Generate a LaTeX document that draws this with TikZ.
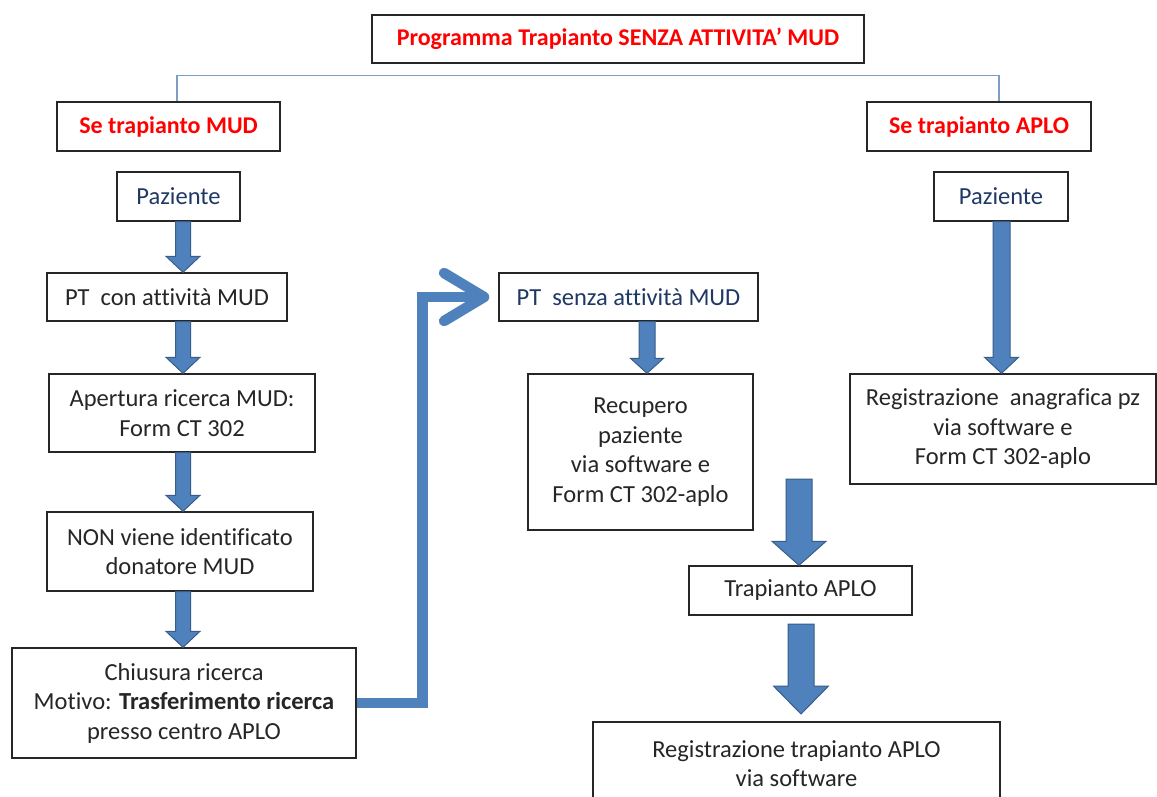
\documentclass[tikz,border=0pt]{standalone}
\usepackage{fontspec}
\setmainfont[Ligatures={NoCommon}]{Carlito}
\usetikzlibrary{calc,arrows.meta}
\definecolor{redtxt}{HTML}{FF0000}
\definecolor{navytxt}{HTML}{1F3864}
\definecolor{afill}{HTML}{4F81BD}
\definecolor{adraw}{HTML}{385D8A}
\definecolor{tcol}{HTML}{7F9CC4}
\definecolor{bcol}{HTML}{262626}
\newcommand{\barrow}[5]{%
  \path[blockarrow] let \p1=(#1), \p2=(#2) in
    (\x2-#3pt,\y1) -- (\x2+#3pt,\y1) -- (\x2+#3pt,\y2+#5pt) -- (\x2+#4pt,\y2+#5pt)
    -- (\x2,\y2) -- (\x2-#4pt,\y2+#5pt) -- (\x2-#3pt,\y2+#5pt) -- cycle;}
\begin{document}
\begin{tikzpicture}[x=1pt,y=-1pt,
  box/.style={draw=bcol, line width=1.4pt, fill=white, align=center, inner sep=0pt,
    font=\fontsize{24.5}{29.5}\selectfont, text=black!85},
  redbox/.style={box, text=redtxt, font=\fontsize{24}{29.5}\selectfont\bfseries},
  navybox/.style={box, text=navytxt},
  blockarrow/.style={fill=afill, draw=adraw, line width=1pt, line join=miter},
  tline/.style={draw=tcol, line width=1.6pt},
  lshape/.style={draw=afill, line width=10.5pt,
    -{Straight Barb[length=40pt, width=48pt, line width=10.5pt, round]}, shorten >=9pt}
]
\useasboundingbox (0,0) rectangle (1157,796);
\fill[white] (0,0) rectangle (1157,796);
\clip (0,0) rectangle (1157,796);

% top
\node[redbox, minimum width=492pt, minimum height=48pt] (title) at (618,39) {Programma Trapianto SENZA ATTIVITA’ MUD};
\node[redbox, minimum width=223pt, minimum height=49pt] (mud) at (168.5,126.5) {Se trapianto MUD};
\node[redbox, minimum width=224pt, minimum height=49pt] (aplo) at (979,126.5) {Se trapianto APLO};
\node[navybox, minimum width=123pt, minimum height=49pt] (pazL) at (178.5,196.5) {Paziente};
\node[navybox, minimum width=134pt, minimum height=49pt] (pazR) at (1001,196.5) {Paziente};

% left column
\node[box, minimum width=240pt, minimum height=48pt] (ptcon) at (167,297) {PT~ con attività MUD};
\node[box, minimum width=266pt, minimum height=78pt] (apertura) at (182,413) {Apertura ricerca MUD:\\Form CT 302};
\node[box, minimum width=266pt, minimum height=79pt] (non) at (180,551.5) {NON viene identificato\\donatore MUD};
\node[box, minimum width=344pt, minimum height=110pt] (chiusura) at (184,703) {Chiusura ricerca\\Motivo: \textbf{Trasferimento ricerca}\\presso centro APLO};

% middle
\node[navybox, minimum width=259pt, minimum height=48pt] (ptsenza) at (628.5,297) {PT~ senza attività MUD};
\node[box, minimum width=225pt, minimum height=156pt] (recupero) at (640.5,452) {Recupero\\paziente\\via software e\\Form CT 302-aplo};
\node[box, minimum width=223pt, minimum height=49pt] (trap) at (800.5,590.5) {Trapianto APLO};
\node[box, minimum width=407pt, minimum height=83pt] (reg2) at (796.5,763.5) {Registrazione trapianto APLO\\via software};

% right
\node[box, minimum width=306pt, minimum height=110pt] (reg1) at (1003,429) {Registrazione~ anagrafica pz\\via software e\\Form CT 302-aplo};

% connector from title
\draw[tline] ([xshift=8.5pt]mud.north) -- ++(0,-26) -| ([xshift=20pt]aplo.north);

% block arrows
\barrow{pazL.south}{183,0 |- ptcon.north}{7.5}{17}{16}
\barrow{ptcon.south}{183,0 |- apertura.north}{7.5}{17}{16}
\barrow{apertura.south}{183,0 |- non.north}{7.5}{17}{16}
\barrow{non.south}{183,0 |- chiusura.north}{7.5}{17}{16}
\barrow{ptsenza.south}{647,0 |- recupero.north}{8}{16.5}{15}
\barrow{pazR.south}{1001.5,0 |- reg1.north}{8.5}{17}{16}
\coordinate (s7) at (799,479);
\barrow{s7}{799,0 |- trap.north}{13}{27}{24}
\coordinate (s8) at (801,624);
\coordinate (t8) at (801,714);
\barrow{s8}{t8}{13}{27.5}{28}

% L-shaped arrow
\draw[lshape] (chiusura.east) -- ++(66,0) |- (ptsenza.west);
\end{tikzpicture}
\end{document}
